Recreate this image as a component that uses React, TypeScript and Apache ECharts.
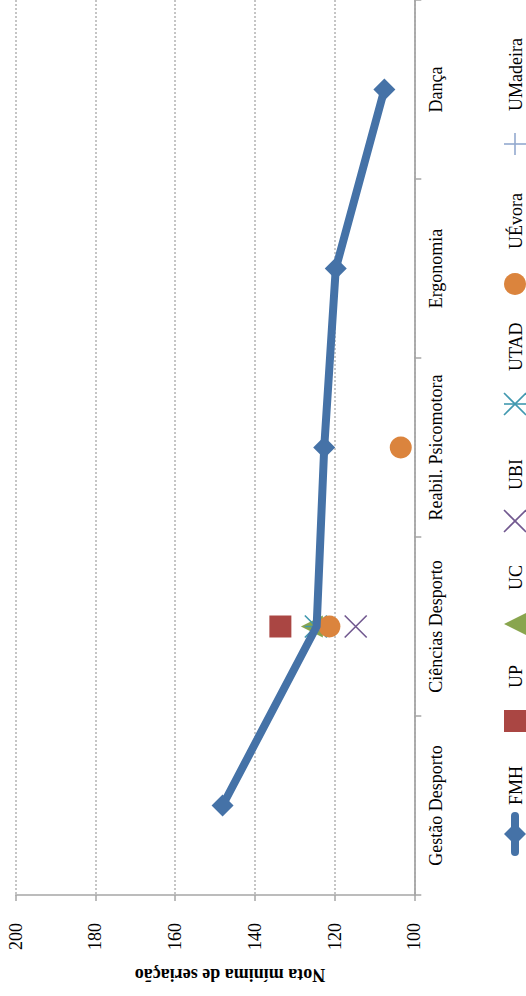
import React, { useEffect, useRef } from "react";
import * as echarts from "echarts";

const categories = ["Gestão Desporto", "Ciências Desporto", "Reabil. Psicomotora", "Ergonomia", "Dança"];
const fmh = [148.1, 124.5, 122.6, 119.7, 107.5];
const up = [null, 133.6, null, null, null];
const uc = [null, 125.7, null, null, null];
const ubi = [null, 114.7, null, null, null];
const utad = [null, 124.7, null, null, null];
const uevora = [null, 121.3, 103.4, null, null];
const umadeira = [null, null, null, null, null];
const seriesNames = ["FMH", "UP", "UC", "UBI", "UTAD", "UÉvora", "UMadeira"];
const axisTitle = "Nota mínima de seriação";

const COLORS = ["#4572A7", "#AA4643", "#89A54E", "#71588F", "#4198AF", "#DB843D", "#93A9CF"];
const FONT = '"Liberation Serif", "Times New Roman", serif';

const X_PATH = "path://M0,0L20,20M20,0L0,20";
const STAR_PATH = "path://M0,0L20,20M20,0L0,20M0,10L20,10";
const PLUS_PATH = "path://M10,0L10,20M0,10L20,10";

function pairs(vals: (number | null)[]) {
  const out: any[] = [];
  vals.forEach((v, i) => {
    if (v !== null && v !== undefined) out.push([v, categories[i]]);
  });
  return out;
}

export default function App() {
  const ref = useRef<HTMLDivElement>(null);
  useEffect(() => {
    if (!ref.current) return;
    const chart = echarts.init(ref.current, undefined, { renderer: "svg" });
    const axisGray = "#a6a6a6";
    const scatterBase = (name: string, idx: number, vals: (number | null)[], symbol: string, extra: any = {}) => ({
      name,
      type: "scatter",
      z: 2,
      symbol,
      symbolSize: 22,
      data: pairs(vals),
      itemStyle: { color: COLORS[idx], borderColor: COLORS[idx], borderWidth: 0, opacity: 1 },
      ...extra,
    });
    const lineMarkStyle = (idx: number) => ({ color: "rgba(0,0,0,0)", borderColor: COLORS[idx], borderWidth: 1.6, opacity: 1 });

    // legend (rotated) via graphics
    const legendIconY = [834, 721, 624, 521, 404, 284, 144];
    const legendTextY = [805, 688, 590, 490, 371, 249, 111];
    const lx = 515;
    const graphic: any[] = [];
    const s = 11;
    legendIconY.forEach((cy, i) => {
      const c = COLORS[i];
      if (i === 0) {
        graphic.push({ type: "line", shape: { x1: lx, y1: cy - 18, x2: lx, y2: cy + 18 }, style: { stroke: c, lineWidth: 8, lineCap: "round" } });
        graphic.push({ type: "polygon", shape: { points: [[lx, cy - s], [lx + s, cy], [lx, cy + s], [lx - s, cy]] }, style: { fill: c } });
      } else if (i === 1) {
        graphic.push({ type: "rect", shape: { x: lx - s, y: cy - s, width: 22, height: 22 }, style: { fill: c } });
      } else if (i === 2) {
        graphic.push({ type: "polygon", shape: { points: [[lx - s, cy], [lx + s, cy - s], [lx + s, cy + s]] }, style: { fill: c } });
      } else if (i === 3) {
        graphic.push({ type: "line", shape: { x1: lx - s, y1: cy - s, x2: lx + s, y2: cy + s }, style: { stroke: c, lineWidth: 1.6 } });
        graphic.push({ type: "line", shape: { x1: lx - s, y1: cy + s, x2: lx + s, y2: cy - s }, style: { stroke: c, lineWidth: 1.6 } });
      } else if (i === 4) {
        graphic.push({ type: "line", shape: { x1: lx - s, y1: cy - s, x2: lx + s, y2: cy + s }, style: { stroke: c, lineWidth: 1.6 } });
        graphic.push({ type: "line", shape: { x1: lx - s, y1: cy + s, x2: lx + s, y2: cy - s }, style: { stroke: c, lineWidth: 1.6 } });
        graphic.push({ type: "line", shape: { x1: lx - s, y1: cy, x2: lx + s, y2: cy }, style: { stroke: c, lineWidth: 1.6 } });
      } else if (i === 5) {
        graphic.push({ type: "circle", shape: { cx: lx, cy, r: s }, style: { fill: c } });
      } else {
        graphic.push({ type: "line", shape: { x1: lx - s, y1: cy, x2: lx + s, y2: cy }, style: { stroke: c, lineWidth: 1.6 } });
        graphic.push({ type: "line", shape: { x1: lx, y1: cy - s, x2: lx, y2: cy + s }, style: { stroke: c, lineWidth: 1.6 } });
      }
      graphic.push({
        type: "text",
        x: 516,
        y: legendTextY[i],
        rotation: Math.PI / 2,
        style: { text: seriesNames[i], font: `18px ${FONT}`, fill: "#000", align: "left", verticalAlign: "middle" },
      });
    });
    graphic.push({
      type: "text",
      x: 230,
      y: 975,
      rotation: Math.PI,
      style: { text: axisTitle, font: `bold 18px ${FONT}`, fill: "#000", align: "center", verticalAlign: "middle" },
    });

    const fmhData = fmh.map((v, i) => (i === 1 ? { value: [v, categories[i]], symbol: "none" } : { value: [v, categories[i]] }));

    chart.setOption({
      animation: false,
      grid: { left: 15.7, right: 111.7, top: 0, bottom: 101, containLabel: false },
      xAxis: {
        type: "value",
        min: 100,
        max: 200,
        interval: 20,
        inverse: true,
        position: "bottom",
        axisLine: { show: true, lineStyle: { color: axisGray, width: 1.5 } },
        axisTick: { show: true, length: 6, lineStyle: { color: axisGray, width: 1.5 } },
        axisLabel: { rotate: 90, margin: 28, fontSize: 18, color: "#000", fontFamily: FONT },
        splitLine: { show: true, lineStyle: { type: [2, 2], color: "#b3b3b3", width: 1.5 } },
      },
      yAxis: {
        type: "category",
        data: categories,
        position: "right",
        axisLine: { show: true, onZero: false, lineStyle: { color: axisGray, width: 1.8 } },
        axisTick: { show: true, length: 7, interval: 0, lineStyle: { color: axisGray, width: 1.5 } },
        axisLabel: { rotate: 90, margin: 13, fontSize: 18, color: "#000", fontFamily: FONT, interval: 0 },
        splitLine: { show: false },
      },
      series: [
        {
          name: seriesNames[0],
          type: "line",
          z: 3,
          data: fmhData,
          symbol: "diamond",
          symbolSize: 22,
          showAllSymbol: true,
          lineStyle: { color: COLORS[0], width: 8, cap: "round", join: "round" },
          itemStyle: { color: COLORS[0], borderWidth: 0 },
        },
        scatterBase(seriesNames[1], 1, up, "rect"),
        scatterBase(seriesNames[2], 2, uc, "triangle", { symbolRotate: 90 }),
        scatterBase(seriesNames[3], 3, ubi, X_PATH, { itemStyle: lineMarkStyle(3) }),
        scatterBase(seriesNames[4], 4, utad, STAR_PATH, { itemStyle: lineMarkStyle(4) }),
        scatterBase(seriesNames[5], 5, uevora, "circle"),
        scatterBase(seriesNames[6], 6, umadeira, PLUS_PATH, { itemStyle: lineMarkStyle(6) }),
      ],
      graphic,
    });
    return () => chart.dispose();
  }, []);
  return <div ref={ref} style={{ position: "absolute", left: 0, top: 0, width: 526, height: 996 }} />;
}
